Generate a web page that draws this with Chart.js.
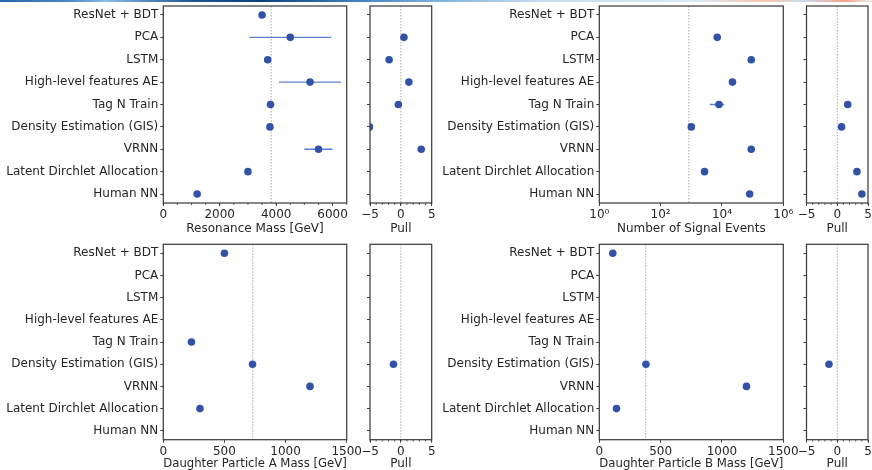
<!DOCTYPE html>
<html lang="en">
<head>
<meta charset="UTF-8">
<title>Black Box 1 results</title>
<script src="https://cdn.jsdelivr.net/npm/chart.js"></script>
<style>
  body { margin: 0; background: #fff; }
  #fig { position: relative; width: 872px; height: 470px; overflow: hidden; }
  #fig canvas { position: absolute; }
  #strip {
    position: absolute; left: 0; top: 0; width: 872px; height: 2px;
    background: linear-gradient(90deg, #2566ad 0%, #4a8ac6 8%, #8cbce0 12%, #1d5596 22%, #0d3f7e 30%,
      #3a7dbf 40%, #7fb2da 50%, #c6dcef 62%, #d9e7f4 80%, #fbc4ad 88%, #c9dcef 92%, #f7a487 97%, #e8f0f8 100%);
  }
</style>
</head>
<body>
<div id="fig"><div id="strip"></div></div>
<script>
// method names, top to bottom
const methods = ['ResNet + BDT', 'PCA', 'LSTM', 'High-level features AE', 'Tag N Train',
  'Density Estimation (GIS)', 'VRNN', 'Latent Dirchlet Allocation', 'Human NN'];

// resonance mass [GeV]
const massValues = [3500, 4500, 3700, 5200, 3800, 3780, 5500, 3000, 1200];
const massErrors = [0, 1450, 0, 1100, 0, 0, 500, 0, 0];
const massPulls = [null, 0.5, -1.9, 1.3, -0.4, -5.1, 3.3, null, null];
const massTruth = 3823;

// number of signal events
const eventValues = [null, 7000, 90000, 22000, 8000, 1000, 90000, 2700, 80000];
const eventErrors = [0, 0, 0, 0, 4000, 0, 0, 0, 0];
const eventPulls = [null, null, null, null, 1.7, 0.7, null, 3.2, 4.0];
const eventTruth = 834;

// daughter particle A mass [GeV]
const massAValues = [500, null, null, null, 230, 730, 1200, 300, null];
const massAErrors = [0, 0, 0, 0, 25, 0, 0, 0, 0];
const massAPulls = [null, null, null, null, null, -1.2, null, null, null];
const massATruth = 732;

// daughter particle B mass [GeV]
const massBValues = [110, null, null, null, null, 380, 1200, 140, null];
const massBErrors = [0, 0, 0, 0, 0, 0, 0, 0, 0];
const massBPulls = [null, null, null, null, null, -1.35, null, null, null];
const massBTruth = 378;

const noErrors = [0, 0, 0, 0, 0, 0, 0, 0, 0];

// axis ticks
const massTicks = [0, 2000, 4000, 6000];
const massTickLabels = ['0', '2000', '4000', '6000'];
const eventTicks = [1, 100, 1e4, 1e6];
const eventTickLabels = ['10\u2070', '10\u00b2', '10\u2074', '10\u2076'];
const daughterTicks = [0, 500, 1000, 1500];
const daughterTickLabels = ['0', '500', '1000', '1500'];
const pullTicks = [-5, 0, 5];
const pullTickLabels = ['\u22125', '0', '5'];

const frameColor = '#3d3d3d';
const markColor = '#3152a6';
const errColor = '#5b7fd3';

Chart.defaults.font.family = "'DejaVu Sans', sans-serif";
Chart.defaults.font.size = 12;
Chart.defaults.color = '#262626';

// frame on all four sides, dotted reference line, minor x ticks
const panelDeco = {
  id: 'panelDeco',
  beforeDatasetsDraw(chart, args, opts) {
    if (opts.refLine == null) return;
    const {ctx, chartArea: a} = chart;
    const x = chart.scales.x.getPixelForValue(opts.refLine);
    ctx.save();
    ctx.strokeStyle = '#a8a8a8';
    ctx.lineWidth = 1;
    ctx.setLineDash([1.5, 1.5]);
    ctx.beginPath();
    ctx.moveTo(x, a.top);
    ctx.lineTo(x, a.bottom);
    ctx.stroke();
    ctx.restore();
  },
  afterDraw(chart, args, opts) {
    const {ctx, chartArea: a} = chart;
    ctx.save();
    ctx.strokeStyle = frameColor;
    ctx.lineWidth = 1.25;
    ctx.strokeRect(a.left, a.top, a.right - a.left, a.bottom - a.top);
    if (opts.minorStep) {
      const sx = chart.scales.x;
      ctx.lineWidth = 0.8;
      ctx.beginPath();
      for (let v = sx.min; v <= sx.max + 1e-9; v += opts.minorStep) {
        const px = sx.getPixelForValue(v);
        ctx.moveTo(px, a.bottom);
        ctx.lineTo(px, a.bottom + 2);
      }
      ctx.stroke();
    }
    ctx.restore();
  }
};

function addCanvas(left, top, w, h) {
  const c = document.createElement('canvas');
  c.width = w; c.height = h;
  c.style.left = left + 'px';
  c.style.top = top + 'px';
  document.getElementById('fig').appendChild(c);
  return c;
}

function pointsFrom(values) {
  return values.map((v, i) => (v == null ? null : {x: v, y: i})).filter(Boolean);
}

function errorSets(values, errors) {
  const sets = [];
  values.forEach((v, i) => {
    if (v == null || !errors[i]) return;
    sets.push({
      data: [{x: v - errors[i], y: i}, {x: v + errors[i], y: i}],
      showLine: true, borderColor: errColor, borderWidth: 1.3, pointRadius: 0
    });
  });
  return sets;
}

function buildPanel(cfg) {
  const canvas = addCanvas(cfg.left, cfg.top, cfg.w, cfg.h);
  const datasets = [{
    data: pointsFrom(cfg.values),
    backgroundColor: markColor, pointRadius: 3.8, pointBorderWidth: 0
  }].concat(errorSets(cfg.values, cfg.errors));

  return new Chart(canvas, {
    type: 'scatter',
    data: {datasets},
    options: {
      responsive: false,
      animation: false,
      events: [],
      layout: {padding: cfg.pad},
      plugins: {
        legend: {display: false},
        tooltip: {enabled: false},
        panelDeco: {refLine: cfg.ref, minorStep: cfg.minor}
      },
      scales: {
        x: {
          type: cfg.log ? 'logarithmic' : 'linear',
          min: cfg.min, max: cfg.max,
          afterBuildTicks: s => { s.ticks = cfg.ticks.map(v => ({value: v})); },
          afterFit: s => { s.height = cfg.xh; s.paddingLeft = 0; s.paddingRight = 0; },
          ticks: {autoSkip: false, maxRotation: 0, padding: 2,
            callback: (v, i) => cfg.tickLabels[i]},
          grid: {drawOnChartArea: false, tickLength: 3, color: frameColor},
          border: {display: false},
          title: {display: true, text: cfg.title, font: {lineHeight: 1},
            padding: {top: 0, bottom: cfg.titlePad}}
        },
        y: {
          type: 'linear', min: -0.4, max: 8.4, reverse: true,
          afterBuildTicks: s => { s.ticks = methods.map((m, i) => ({value: i})); },
          afterFit: s => { s.width = cfg.yw; s.paddingTop = 0; s.paddingBottom = 0; },
          ticks: {display: cfg.names, autoSkip: false, padding: 2, callback: v => methods[v]},
          grid: {drawOnChartArea: false, tickLength: 3, color: frameColor},
          border: {display: false}
        }
      }
    },
    plugins: [panelDeco]
  });
}

const rowTop = {top: 0, h: 235, padTop: 6, xh: 32, titlePad: 0};
const rowBottom = {top: 235, h: 235, padTop: 9.3, xh: 30.3, titlePad: 0};

function mainPanel(row, left, padRight, extra) {
  return buildPanel(Object.assign({
    left, top: row.top, w: 368, h: row.h, yw: 163.3, xh: row.xh, titlePad: row.titlePad,
    pad: {top: row.padTop, right: padRight, bottom: 0, left: 0}, names: true
  }, extra));
}

function pullPanel(row, left, w, yw, padRight, values) {
  return buildPanel({
    left, top: row.top, w, h: row.h, yw, xh: row.xh, titlePad: row.titlePad,
    pad: {top: row.padTop, right: padRight, bottom: 0, left: 0}, names: false,
    values, errors: noErrors, min: -5, max: 5, ticks: pullTicks, tickLabels: pullTickLabels,
    ref: 0, minor: 1, title: 'Pull'
  });
}

mainPanel(rowTop, 0, 21.3, {
  values: massValues, errors: massErrors, min: 0, max: 6500,
  ticks: massTicks, tickLabels: massTickLabels, ref: massTruth, minor: 500,
  title: 'Resonance Mass [GeV]'
});
pullPanel(rowTop, 360, 80, 10, 8.3, massPulls);

mainPanel(rowTop, 436, 20.7, {
  values: eventValues, errors: eventErrors, log: true, min: 1, max: 1e6,
  ticks: eventTicks, tickLabels: eventTickLabels, ref: eventTruth,
  title: 'Number of Signal Events'
});
pullPanel(rowTop, 796, 76, 10.5, 3.7, eventPulls);

mainPanel(rowBottom, 0, 21.3, {
  values: massAValues, errors: massAErrors, min: 0, max: 1500,
  ticks: daughterTicks, tickLabels: daughterTickLabels, ref: massATruth,
  title: 'Daughter Particle A Mass [GeV]'
});
pullPanel(rowBottom, 360, 80, 10, 8.3, massAPulls);

mainPanel(rowBottom, 436, 20.7, {
  values: massBValues, errors: massBErrors, min: 0, max: 1500,
  ticks: daughterTicks, tickLabels: daughterTickLabels, ref: massBTruth,
  title: 'Daughter Particle B Mass [GeV]'
});
pullPanel(rowBottom, 796, 76, 10.5, 3.7, massBPulls);
</script>
</body>
</html>
